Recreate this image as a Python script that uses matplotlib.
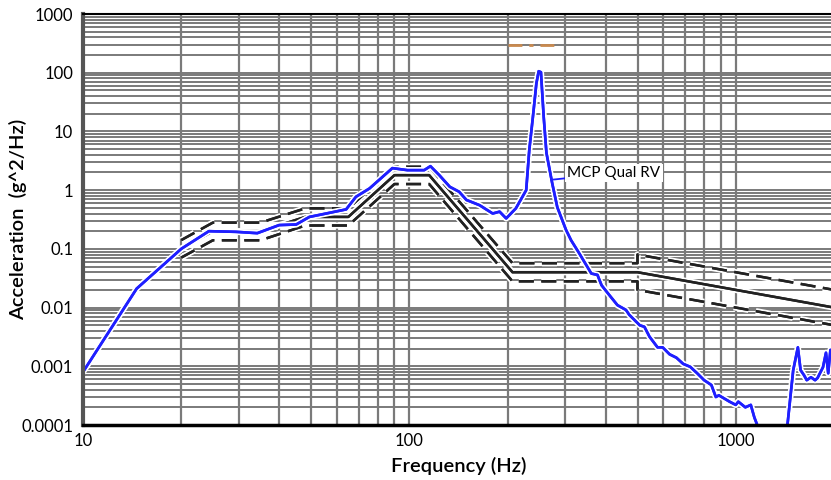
import matplotlib
matplotlib.use("Agg")
import matplotlib.pyplot as plt
import matplotlib.patheffects as pe
from matplotlib.ticker import FixedLocator, FixedFormatter, NullFormatter

plt.rcParams['font.family'] = ['Lato', 'DejaVu Sans']

# Measured response "MCP Qual RV"
resp_freq = [10, 14.6, 20, 24.3, 29.4, 34.2, 39.9, 45, 49.4, 55.6, 64, 68.6, 75.5,
             88.7, 98.6, 111, 116, 123.5, 133, 142, 149.6, 164, 180, 189, 198, 212,
             228, 233, 239, 245, 249, 253, 258, 263, 274, 284, 302, 313, 331, 361,
             377, 388, 411, 434, 461, 472, 508, 525, 544, 576, 597, 627, 658, 690,
             725, 762, 800, 842, 869, 888, 957, 1000, 1018, 1070, 1112, 1140, 1170,
             1200, 1400, 1440, 1500, 1550, 1580, 1620, 1650, 1700, 1750, 1780, 1850,
             1890, 1920, 1950, 2000]
resp_val = [0.0008, 0.021, 0.1, 0.2, 0.195, 0.185, 0.254, 0.26, 0.35, 0.40, 0.47, 0.77, 1.07,
            2.37, 2.19, 2.19, 2.56, 1.8, 1.14, 0.94, 0.68, 0.555, 0.40, 0.43, 0.33, 0.49,
            1.0, 4.8, 17.5, 66, 106, 102, 17.5, 4.3, 1.3, 0.51, 0.21, 0.14, 0.085, 0.038,
            0.036, 0.024, 0.016, 0.011, 0.0091, 0.0075, 0.0050, 0.0047, 0.0032, 0.0021, 0.0021,
            0.0016, 0.0014, 0.0011, 0.00098, 0.00076, 0.00058, 0.00048, 0.0003, 0.00032,
            0.00025, 0.00022, 0.00025, 0.00020, 0.00022, 0.000135, 0.0000925,
            0.00004, 0.00004, 0.0001, 0.00086, 0.0021, 0.00086, 0.0007, 0.00058, 0.00065,
            0.00058, 0.00063, 0.00096, 0.0017, 0.00076, 0.0019, 0.0012]

# Specification (nominal) and tolerance bands
spec_freq = [20, 25, 35, 48, 65, 90, 115, 207, 500, 2000]
spec_val = [0.1, 0.2, 0.2, 0.35, 0.35, 1.8, 1.8, 0.04, 0.04, 0.01]
tol_freq = [20, 25, 35, 48, 65, 90, 115, 207, 500, 500, 2000]
upper_val = [0.141, 0.28, 0.28, 0.49, 0.49, 2.5, 2.5, 0.057, 0.057, 0.08, 0.02]
lower_val = [0.071, 0.14, 0.14, 0.25, 0.25, 1.27, 1.27, 0.028, 0.028, 0.02, 0.005]

# Abort limit line
abort_freq = [200, 290]
abort_val = [300, 300]

x_major = [10, 100, 1000]
x_major_labels = ['10', '100', '1000']
x_minor = [20, 30, 40, 50, 60, 70, 80, 90, 200, 300, 400, 500, 600, 700, 800, 900]
y_major = [0.0001, 0.001, 0.01, 0.1, 1, 10, 100, 1000]
y_major_labels = ['0.0001', '0.001', '0.01', '0.1', '1', '10', '100', '1000']
y_minor = [m * d for d in [0.0001, 0.001, 0.01, 0.1, 1, 10, 100] for m in range(2, 10)]

fig = plt.figure(figsize=(8.31, 4.80), dpi=100)
ax = fig.add_axes([83 / 831, 1 - 425 / 480, 751 / 831, 411 / 480])
ax.set_xscale('log')
ax.set_yscale('log')
ax.set_xlim(10, 2000)
ax.set_ylim(0.0001, 1000)

ax.xaxis.set_major_locator(FixedLocator(x_major))
ax.xaxis.set_major_formatter(FixedFormatter(x_major_labels))
ax.xaxis.set_minor_locator(FixedLocator(x_minor))
ax.xaxis.set_minor_formatter(NullFormatter())
ax.yaxis.set_major_locator(FixedLocator(y_major))
ax.yaxis.set_major_formatter(FixedFormatter(y_major_labels))
ax.yaxis.set_minor_locator(FixedLocator(y_minor))
ax.yaxis.set_minor_formatter(NullFormatter())

gridcol = '#7a7a7a'
ax.grid(True, which='both', axis='x', color=gridcol, lw=1.6)
ax.grid(True, which='both', axis='y', color=gridcol, lw=1.4)
ax.set_axisbelow(True)

ax.tick_params(which='both', length=0, labelsize=12, colors='black')
ax.tick_params(axis='y', pad=7)
ax.tick_params(axis='x', pad=6)

halo = [pe.withStroke(linewidth=4.5, foreground='white'), pe.Normal()]

ax.plot(tol_freq, upper_val, color='#222222', lw=1.8, dashes=(6, 3), path_effects=halo)
ax.plot(tol_freq, lower_val, color='#222222', lw=1.8, dashes=(6, 3), path_effects=halo)
ax.plot(spec_freq, spec_val, color='#222222', lw=1.8, path_effects=halo)
ax.plot(abort_freq, abort_val, color='#c8894e', lw=2, dashes=(5, 2.5, 1.5, 2.5))
ax.plot(resp_freq, resp_val, color='#1f1fff', lw=1.9, path_effects=halo)

ax.annotate('MCP Qual RV', xy=(272, 1.5), xytext=(305, 1.95), textcoords='data',
            ha='left', va='center', fontsize=11, color='black',
            bbox=dict(boxstyle='square,pad=0.15', fc='white', ec='none'),
            arrowprops=dict(arrowstyle='-', color='#1f1fff', lw=1.3, shrinkA=0, shrinkB=0))

ax.spines['right'].set_visible(False)
ax.spines['left'].set_color('#555555')
ax.spines['left'].set_linewidth(3)
ax.spines['bottom'].set_color('black')
ax.spines['bottom'].set_linewidth(2.5)
ax.spines['top'].set_color('black')
ax.spines['top'].set_linewidth(1.5)

ax.set_xlabel('Frequency (Hz)', fontsize=14.5, fontweight='semibold')
ax.set_ylabel('Acceleration  (g^2/Hz)', fontsize=14.5, fontweight='semibold')
ax.yaxis.set_label_coords(-0.0866, 0.5)
ax.xaxis.set_label_coords(0.5, -0.0998)
ax.xaxis.label.set_va('center')
ax.yaxis.label.set_va('center')

fig.savefig('out.png', dpi=100)
